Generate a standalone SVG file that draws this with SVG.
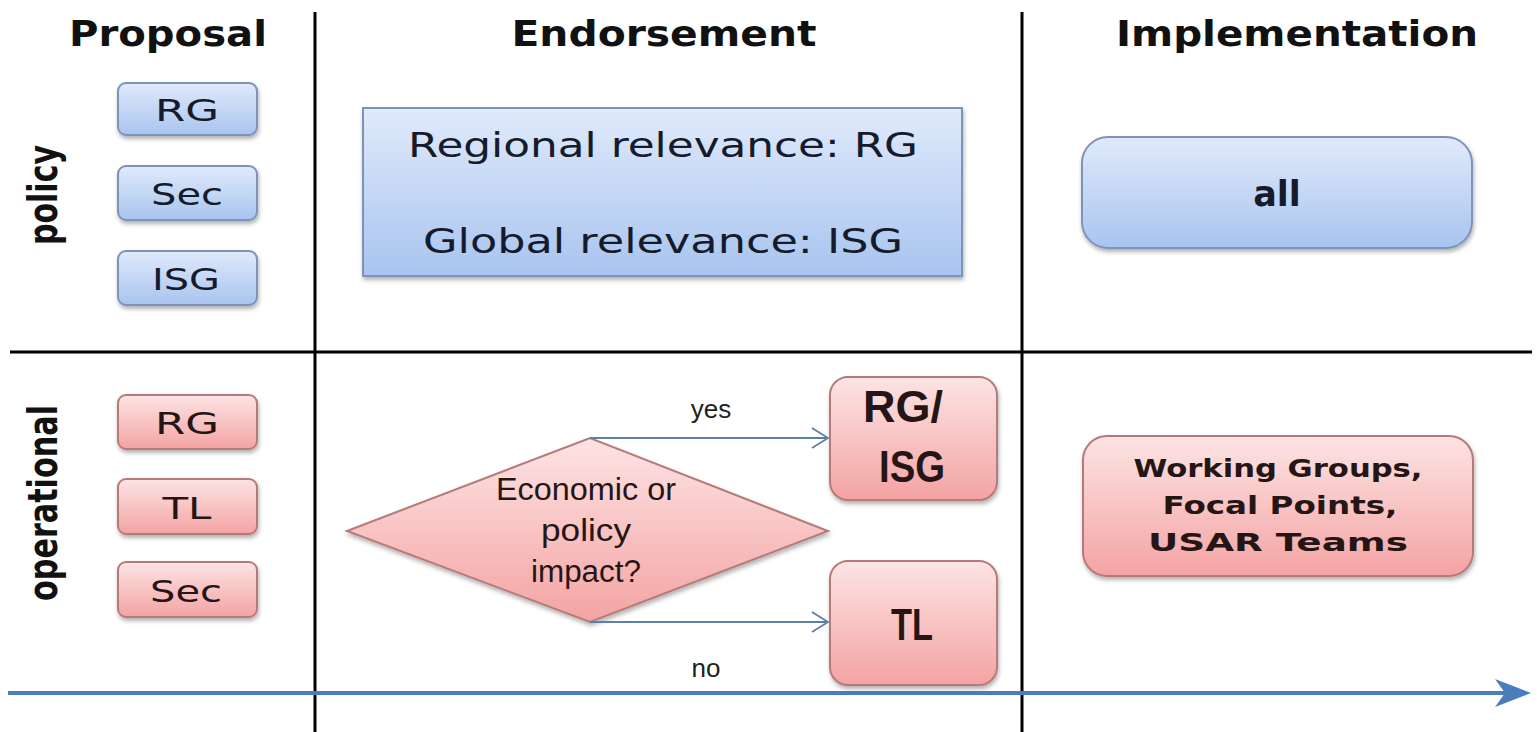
<svg xmlns="http://www.w3.org/2000/svg" width="1537" height="732" viewBox="0 0 1537 732">
<style>
.hdr{font-family:"DejaVu Sans",Verdana,sans-serif;font-weight:bold;font-size:35px;fill:#111;text-anchor:middle}
.side{font-family:"DejaVu Sans",Verdana,sans-serif;font-weight:bold;font-size:40px;fill:#111;text-anchor:middle}
.bt{font-family:"DejaVu Sans",Verdana,sans-serif;font-size:31px;fill:#151b2b;text-anchor:middle}
.pt{font-family:"DejaVu Sans",Verdana,sans-serif;font-size:31px;fill:#261515;text-anchor:middle}
.big{font-family:"DejaVu Sans",Verdana,sans-serif;font-size:34px;fill:#151b2b;text-anchor:middle}
.cal{font-family:"Liberation Sans",Arial,sans-serif;fill:#261515;text-anchor:middle}
.wg{font-family:"DejaVu Sans",Verdana,sans-serif;font-weight:bold;font-size:25px;fill:#261515;text-anchor:middle}
.lbl{font-family:"Liberation Sans",Arial,sans-serif;font-size:26px;fill:#222;text-anchor:middle}
.blue{fill:url(#gb);stroke:#7d93b8;stroke-width:2;filter:url(#sh)}
.pink{fill:url(#gp);stroke:#b77a7a;stroke-width:2;filter:url(#sh)}
.grid{stroke:#000;stroke-width:3;fill:none}
.thin{stroke:#5b80aa;stroke-width:1.8;fill:none}
</style>
<defs>
<linearGradient id="gb" x1="0" y1="0" x2="0" y2="1"><stop offset="0" stop-color="#e0eafb"/><stop offset="1" stop-color="#a8c4ef"/></linearGradient>
<linearGradient id="gp" x1="0" y1="0" x2="0" y2="1"><stop offset="0" stop-color="#fde4e4"/><stop offset="1" stop-color="#f4a3a3"/></linearGradient>
<filter id="sh" x="-10%" y="-10%" width="120%" height="130%"><feDropShadow dx="1" dy="3" stdDeviation="2" flood-color="#000" flood-opacity="0.3"/></filter>
</defs>
<rect width="1537" height="732" fill="#fff"/>
<g id="grid">
<line class="grid" x1="315" y1="12" x2="315" y2="732"/>
<line class="grid" x1="1022" y1="12" x2="1022" y2="732"/>
<line class="grid" x1="10" y1="352" x2="1532" y2="352"/>
</g>
<g id="headers">
<text class="hdr" x="168" y="46" textLength="198" lengthAdjust="spacingAndGlyphs">Proposal</text>
<text class="hdr" x="664" y="46" textLength="305" lengthAdjust="spacingAndGlyphs">Endorsement</text>
<text class="hdr" x="1297" y="46" textLength="362" lengthAdjust="spacingAndGlyphs">Implementation</text>
<text class="side" transform="translate(57,195) rotate(-90)" textLength="100" lengthAdjust="spacingAndGlyphs">policy</text>
<text class="side" transform="translate(57,503) rotate(-90)" textLength="196" lengthAdjust="spacingAndGlyphs">operational</text>
</g>
<g id="p-rg"><rect class="blue" x="118" y="83" width="139" height="52" rx="8"/><text class="bt" x="187" y="121" textLength="64" lengthAdjust="spacingAndGlyphs">RG</text></g>
<g id="p-sec"><rect class="blue" x="118" y="166" width="139" height="54" rx="8"/><text class="bt" x="187" y="205" textLength="72" lengthAdjust="spacingAndGlyphs">Sec</text></g>
<g id="p-isg"><rect class="blue" x="118" y="251" width="139" height="54" rx="8"/><text class="bt" x="186" y="290" textLength="68" lengthAdjust="spacingAndGlyphs">ISG</text></g>
<g id="e-policy"><rect class="blue" x="363" y="108" width="599" height="168"/>
<text class="big" x="663" y="157" textLength="510" lengthAdjust="spacingAndGlyphs">Regional relevance: RG</text>
<text class="big" x="663" y="253" textLength="480" lengthAdjust="spacingAndGlyphs">Global relevance: ISG</text></g>
<g id="i-all"><rect class="blue" x="1082" y="137" width="390" height="111" rx="26"/><text class="bt" x="1277" y="206" style="font-weight:bold;font-size:35px">all</text></g>
<g id="o-rg"><rect class="pink" x="118" y="395" width="139" height="54" rx="8"/><text class="pt" x="187" y="434" textLength="64" lengthAdjust="spacingAndGlyphs">RG</text></g>
<g id="o-tl"><rect class="pink" x="118" y="479" width="139" height="55" rx="8"/><text class="pt" x="187" y="519" textLength="49" lengthAdjust="spacingAndGlyphs">TL</text></g>
<g id="o-sec"><rect class="pink" x="118" y="562" width="139" height="55" rx="8"/><text class="pt" x="186" y="602" textLength="72" lengthAdjust="spacingAndGlyphs">Sec</text></g>
<g id="decision"><polygon class="pink" points="347,531 590,438 828,531 590,622"/>
<text class="cal" x="586" y="500" font-size="31" textLength="180" lengthAdjust="spacingAndGlyphs">Economic or</text>
<text class="cal" x="586" y="541" font-size="31" textLength="90" lengthAdjust="spacingAndGlyphs">policy</text>
<text class="cal" x="586" y="582" font-size="31" textLength="110" lengthAdjust="spacingAndGlyphs">impact?</text></g>
<g id="e-rgisg"><rect class="pink" x="830" y="377" width="167" height="123" rx="18"/>
<text class="cal" x="903" y="422" font-size="44" font-weight="bold" textLength="80" lengthAdjust="spacingAndGlyphs">RG/</text>
<text class="cal" x="912" y="482" font-size="44" font-weight="bold" textLength="66" lengthAdjust="spacingAndGlyphs">ISG</text></g>
<g id="e-tl"><rect class="pink" x="830" y="561" width="167" height="124" rx="18"/>
<text class="cal" x="912" y="640" font-size="44" font-weight="bold" textLength="42" lengthAdjust="spacingAndGlyphs">TL</text></g>
<g id="i-op"><rect class="pink" x="1083" y="436" width="390" height="140" rx="24"/>
<text class="wg" x="1278" y="477" textLength="289" lengthAdjust="spacingAndGlyphs">Working Groups,</text>
<text class="wg" x="1280" y="514" textLength="235" lengthAdjust="spacingAndGlyphs">Focal Points,</text>
<text class="wg" x="1278" y="551" textLength="260" lengthAdjust="spacingAndGlyphs">USAR Teams</text></g>
<g id="connectors">
<line class="thin" x1="590" y1="438" x2="827" y2="438"/>
<polyline class="thin" points="812,428 828,438 812,448"/>
<line class="thin" x1="590" y1="622" x2="827" y2="622"/>
<polyline class="thin" points="812,612 828,622 812,632"/>
<line x1="8" y1="693" x2="1515" y2="693" stroke="#4a7ebb" stroke-width="4"/>
<polygon points="1495,679 1531,693 1495,707 1505,693" fill="#4a7ebb"/>
<text class="lbl" x="711" y="418">yes</text>
<text class="lbl" x="706" y="677">no</text>
</g>
</svg>
